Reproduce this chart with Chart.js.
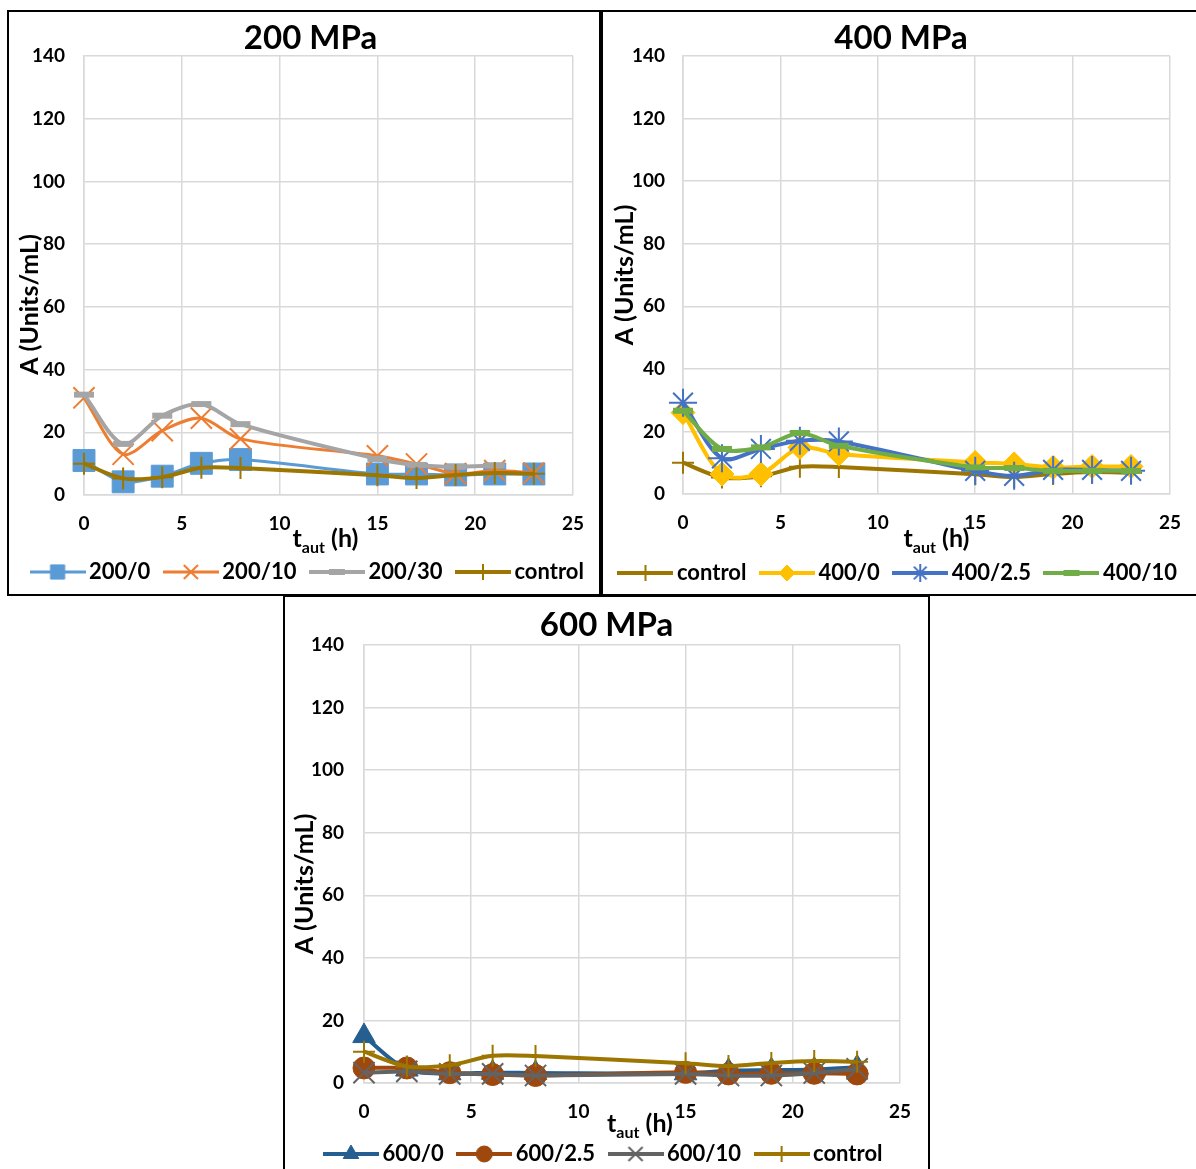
<!DOCTYPE html>
<html>
<head>
<meta charset="utf-8">
<title>Enzyme activity vs autolysis time</title>
<script src="https://cdn.jsdelivr.net/npm/chart.js@4.4.1/dist/chart.umd.min.js"></script>
<style>
  body { margin: 0; background: #fff; width: 1196px; height: 1169px; overflow: hidden; position: relative; }
  .panel { position: absolute; border: 2px solid #000; box-sizing: border-box; overflow: hidden; background: #fff; }
  .panel canvas { position: absolute; left: 0; top: 0; }
</style>
</head>
<body>
<div class="panel" style="left:7px; top:10px; width:594px; height:586px;"><canvas id="c200" width="603" height="581"></canvas></div>
<div class="panel" style="left:601px; top:10px; width:610px; height:586px;"><canvas id="c400" width="596" height="582"></canvas></div>
<div class="panel" style="left:283px; top:595px; width:647px; height:600px;"><canvas id="c600" width="643" height="580"></canvas></div>
<script>
// sampling times (h)
const hours = [0, 2, 4, 6, 8, 15, 17, 19, 21, 23];
const xTickValues = [0, 5, 10, 15, 20, 25];
const yTickValues = [0, 20, 40, 60, 80, 100, 120, 140];

// activity A (Units/mL)
const control = [10, 5.3, 5.7, 8.7, 8.6, 6.3, 5.4, 6.4, 7.0, 6.8];
const a200_0 = [11, 4.2, 6.0, 10.1, 11.3, 6.7, 6.7, 6.4, 6.7, 6.7];
const a200_10 = [31, 13, 20.5, 24.5, 17.9, 12.5, 9.9, 6.8, 7.8, 7.0];
const a200_30 = [32, 16.3, 25.3, 29, 22.6, 11.5, 9.6, 9.0, 9.4, null];
const a400_0 = [26, 6.4, 6.4, 14.9, 12.8, 10.1, 9.6, 8.5, 8.8, 8.8];
const a400_25 = [29.2, 11.4, 14.4, 17, 16.8, 7.4, 5.8, 7.7, 7.7, 7.4];
const a400_10 = [26.6, 14.4, 14.9, 19.5, 15.4, 8.5, 8.3, 7.4, 7.4, 7.4];
const a600_0 = [15, 4.3, 3.1, 3.3, 3.2, 3.1, 3.9, 4.1, 4.3, 5.0];
const a600_25 = [4.8, 4.8, 3.3, 2.7, 2.4, 3.4, 2.9, 3.1, 3.1, 2.9];
const a600_10 = [3.3, 3.7, 2.9, 2.9, 2.4, 2.9, 2.4, 2.4, 3.2, 4.5];

const yTitle = 'A (Units/mL)';
const xTitleParts = ['t', 'aut', ' (h)'];

const FONT = 'Lato';
const GRID = '#d9d9d9';

// marker looks, roughly like the spreadsheet defaults
const markers = {
  square:   { pointStyle: 'rect', radius: 15.5, legendRadius: 10, width: 1, fill: true },
  x:        { pointStyle: 'crossRot', radius: 15, legendRadius: 10, width: 2, fill: false },
  dash:     { pointStyle: 'line', radius: 10, legendRadius: 8, width: 6, fill: false },
  plus:     { pointStyle: 'cross', radius: 11, legendRadius: 8, width: 2, fill: false },
  diamond:  { pointStyle: 'rectRot', radius: 12, legendRadius: 8, width: 1, fill: true },
  star:     { pointStyle: 'star', radius: 14, legendRadius: 9, width: 2, fill: false },
  triangle: { pointStyle: 'triangle', radius: 13, legendRadius: 9, width: 1, fill: true },
  circle:   { pointStyle: 'circle', radius: 11, legendRadius: 8, width: 1, fill: true }
};

function makeDataset(s, i, count) {
  const m = markers[s.marker];
  return {
    label: s.label,
    data: hours.map((h, k) => ({ x: h, y: s.values[k] })).filter(p => p.y !== null),
    xAxisID: 'x',
    yAxisID: 'y',
    borderColor: s.color,
    backgroundColor: s.color,
    borderWidth: s.lineWidth || 3.5,
    tension: 0.3,
    pointStyle: m.pointStyle,
    pointRadius: m.radius,
    pointBorderWidth: m.width,
    pointBorderColor: s.color,
    pointBackgroundColor: m.fill ? s.color : 'rgba(0,0,0,0)',
    legendRadius: m.legendRadius,
    order: count - i,
    clip: false
  };
}

// legend swatch: short line with the marker in the middle
function legendSwatch(ds) {
  const c = document.createElement('canvas');
  c.width = 56; c.height = 24;
  const g = c.getContext('2d');
  g.strokeStyle = ds.borderColor;
  g.lineWidth = ds.borderWidth;
  g.beginPath(); g.moveTo(0, 12); g.lineTo(56, 12); g.stroke();
  g.fillStyle = ds.pointBackgroundColor;
  g.strokeStyle = ds.pointBorderColor;
  g.lineWidth = ds.pointBorderWidth;
  if (Chart.helpers && Chart.helpers.drawPoint) {
    Chart.helpers.drawPoint(g, { pointStyle: ds.pointStyle, radius: ds.legendRadius, borderWidth: ds.pointBorderWidth, rotation: 0 }, 28, 12);
  }
  return c;
}

// axis titles (x title needs a subscript)
const axisTitles = {
  id: 'axisTitles',
  afterDraw(chart, args, opts) {
    const { ctx, chartArea } = chart;
    ctx.save();
    ctx.fillStyle = '#000';
    ctx.font = `bold ${opts.ySize}px ${FONT}`;
    ctx.translate(chartArea.left - opts.yLeft, (chartArea.top + chartArea.bottom) / 2 + opts.yShift);
    ctx.rotate(-Math.PI / 2);
    ctx.textAlign = 'center';
    ctx.textBaseline = 'middle';
    ctx.fillText(yTitle, 0, 0);
    ctx.restore();

    ctx.save();
    ctx.fillStyle = '#000';
    ctx.textBaseline = 'alphabetic';
    ctx.textAlign = 'left';
    const main = `bold ${opts.xSize}px ${FONT}`;
    const sub = `bold ${opts.xSubSize}px ${FONT}`;
    ctx.font = main; const w1 = ctx.measureText(xTitleParts[0]).width;
    ctx.font = sub; const w2 = ctx.measureText(xTitleParts[1]).width;
    ctx.font = main; const w3 = ctx.measureText(xTitleParts[2]).width;
    let x = (chartArea.left + chartArea.right) / 2 + opts.xShift - (w1 + w2 + w3) / 2;
    const y = chartArea.bottom + opts.xBase;
    ctx.font = main; ctx.fillText(xTitleParts[0], x, y); x += w1;
    ctx.font = sub; ctx.fillText(xTitleParts[1], x, y + 6); x += w2;
    ctx.font = main; ctx.fillText(xTitleParts[2], x, y);
    ctx.restore();
  }
};

function buildChart(id, cfg) {
  const datasets = cfg.series.map((s, i, all) => makeDataset(s, i, all.length));
  const swatches = datasets.map(legendSwatch);
  const tickFont = { family: FONT, size: 19, weight: 'bold' };
  new Chart(document.getElementById(id), {
    type: 'line',
    data: { datasets },
    options: {
      responsive: false,
      animation: false,
      devicePixelRatio: 1,
      layout: { padding: { left: 0, top: 0, right: 0, bottom: cfg.padBottom } },
      scales: {
        x: {
          type: 'linear', min: 0, max: 25,
          afterBuildTicks: s => { s.ticks = xTickValues.map(v => ({ value: v })); },
          afterFit: s => { s.height = cfg.xHeight; },
          grid: { color: GRID, lineWidth: 1.5, drawTicks: false },
          border: { color: GRID, width: 1.5 },
          ticks: { padding: 17, color: '#000', font: tickFont }
        },
        y: {
          position: 'left', min: 0, max: 140,
          afterBuildTicks: s => { s.ticks = yTickValues.map(v => ({ value: v })); },
          afterFit: s => { s.width = cfg.yWidth; },
          grid: { color: GRID, lineWidth: 1.5, drawTicks: false },
          border: { color: GRID, width: 1.5 },
          ticks: { padding: cfg.yPad, color: '#000', font: tickFont }
        },
        // empty strip on the right so the title and legend keep the full width
        spacer: {
          type: 'linear', axis: 'y', position: 'right',
          afterFit: s => { s.width = cfg.rightGap; },
          grid: { display: false }, border: { display: false }, ticks: { display: false }
        }
      },
      plugins: {
        title: {
          display: true, text: cfg.title, color: '#000',
          font: { family: FONT, size: 33, weight: 'bold', lineHeight: 1 },
          padding: { top: cfg.titleTop, bottom: cfg.titleBottom }
        },
        legend: {
          position: 'bottom',
          labels: {
            usePointStyle: true,
            pointStyleWidth: 41,
            padding: 20,
            color: '#000',
            font: { family: FONT, size: 22, weight: 'bold' },
            sort: (a, b) => a.datasetIndex - b.datasetIndex,
            generateLabels: chart => chart.data.datasets.map((ds, i) => ({
              text: ds.label, datasetIndex: i, pointStyle: swatches[i],
              fillStyle: ds.borderColor, strokeStyle: ds.borderColor, lineWidth: 0, hidden: false
            }))
          }
        },
        tooltip: { enabled: false },
        axisTitles: cfg.axisTitles
      }
    },
    plugins: [axisTitles]
  });
}

buildChart('c200', {
  title: '200 MPa',
  series: [
    { label: '200/0', values: a200_0, color: '#5B9BD5', marker: 'square', lineWidth: 3 },
    { label: '200/10', values: a200_10, color: '#ED7D31', marker: 'x', lineWidth: 3 },
    { label: '200/30', values: a200_30, color: '#A5A5A5', marker: 'dash', lineWidth: 4 },
    { label: 'control', values: control, color: '#9C7600', marker: 'plus', lineWidth: 4 }
  ],
  rightGap: 39, padBottom: 0, xHeight: 46, yWidth: 75, yPad: 19,
  titleTop: 9.5, titleBottom: 1.5,
  axisTitles: { ySize: 25, yLeft: 54, yShift: 29, xSize: 25, xSubSize: 16, xShift: -3, xBase: 52 }
});

buildChart('c400', {
  title: '400 MPa',
  series: [
    { label: 'control', values: control, color: '#9C7600', marker: 'plus', lineWidth: 4 },
    { label: '400/0', values: a400_0, color: '#FFC000', marker: 'diamond', lineWidth: 4 },
    { label: '400/2.5', values: a400_25, color: '#4472C4', marker: 'star', lineWidth: 4 },
    { label: '400/10', values: a400_10, color: '#70AD47', marker: 'dash', lineWidth: 4 }
  ],
  rightGap: 29, padBottom: 0, xHeight: 48, yWidth: 80, yPad: 18,
  titleTop: 9.5, titleBottom: 1.5,
  axisTitles: { ySize: 25, yLeft: 58, yShift: 0, xSize: 25, xSubSize: 16, xShift: 10, xBase: 53 }
});

buildChart('c600', {
  title: '600 MPa',
  series: [
    { label: '600/0', values: a600_0, color: '#255E91', marker: 'triangle', lineWidth: 4 },
    { label: '600/2.5', values: a600_25, color: '#9E480E', marker: 'circle', lineWidth: 4 },
    { label: '600/10', values: a600_10, color: '#636363', marker: 'x', lineWidth: 4 },
    { label: 'control', values: control, color: '#9C7600', marker: 'plus', lineWidth: 4 }
  ],
  rightGap: 28, padBottom: 2, xHeight: 40, yWidth: 79, yPad: 20,
  titleTop: 11.5, titleBottom: 3.5,
  axisTitles: { ySize: 25, yLeft: 59, yShift: 20, xSize: 25, xSubSize: 16, xShift: 8, xBase: 49 }
});
</script>
</body>
</html>
